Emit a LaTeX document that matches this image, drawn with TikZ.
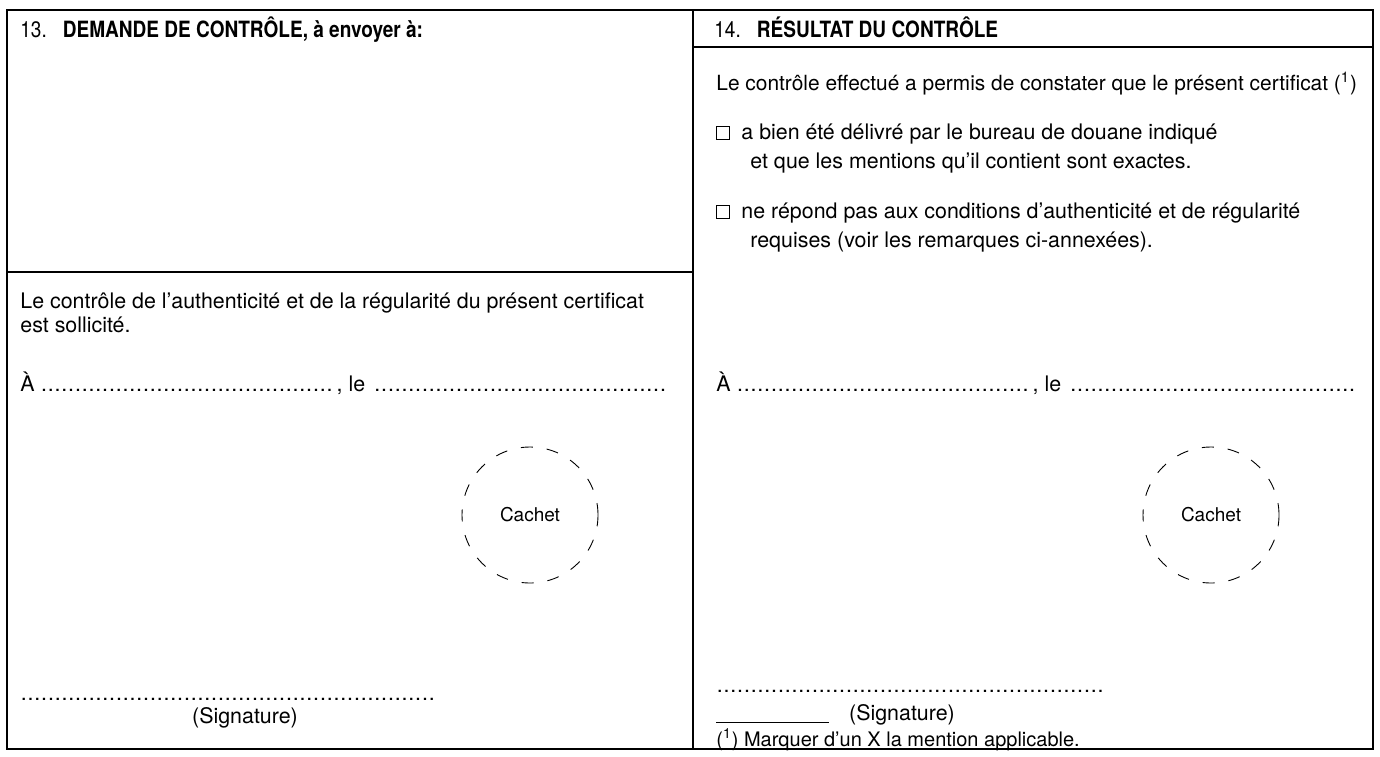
\documentclass[tikz,border=0pt]{standalone}
\usepackage{fontspec}
\setmainfont{TeX Gyre Heros}
\usetikzlibrary{positioning}
\newcommand{\pointilles}{\leaders\hbox to 3.4pt{\hss.\hss}\hfill}

\begin{document}
\begin{tikzpicture}[x=0.5pt,y=-0.5pt,
    frame/.style={line width=0.75pt},
    txt/.style={anchor=base west,inner sep=0pt,font=\fontsize{10.7}{12}\selectfont},
    titre/.style={txt,font=\fontsize{11.2}{13}\selectfont\addfontfeature{FakeStretch=0.85}},
    cachet/.style={circle,draw,minimum size=68pt,inner sep=0pt,line width=0.45pt,
      dash pattern=on 6pt off 7pt,font=\fontsize{9.5}{11}\selectfont},
    chk/.style={draw,line width=0.7pt,minimum size=6.4pt,inner sep=0pt}]
  \useasboundingbox (0,0) rectangle (1380,756);
  % frame of the form
  \coordinate (tl) at (7,10);
  \coordinate (br) at (1373,749);
  \coordinate (mt) at (693,10);
  \coordinate (mb) at (693,749);
  \draw[frame] (tl) rectangle (br);
  \draw[frame] (mt) -- (mb);
  \draw[frame] (7,272) -- (693,272);
  \draw[frame] (693,47) -- (1373,47);

  % box 13
  \node[titre] (h13) at (20,37) {13.\hspace{8pt}\textbf{DEMANDE DE CONTRÔLE, à envoyer à:}};
  \node[txt] (req1) at (20,308) {Le contrôle de l’authenticité et de la régularité du présent certificat};
  \node[txt] (req2) at (20,332) {est sollicité.};
  \node[txt] (lieuA) at (20,391) {\makebox[326pt][l]{À \makebox[148pt]{\pointilles}, le \pointilles}};
  \node[cachet] (cachetA) at (530,515) {Cachet};
  \node[txt] (sigA) at (20,700) {\makebox[210pt]{\pointilles}};
  \node[txt,anchor=base] (sigAl) at (245,723) {(Signature)};

  % box 14
  \node[titre] (h14) at (714,37) {14.\hspace{8pt}\textbf{RÉSULTAT DU CONTRÔLE}};
  \node[txt,font=\fontsize{10.45}{12}\selectfont] (res) at (716,90) {Le contrôle effectué a permis de constater que le présent certificat (\textsuperscript{1})};
  \node[chk,anchor=south west] (c1) at (716,140) {};
  \node[txt] (c1a) at (741,139) {a bien été délivré par le bureau de douane indiqué};
  \node[txt] (c1b) at (750,168) {et que les mentions qu’il contient sont exactes.};
  \node[chk,anchor=south west] (c2) at (716,219) {};
  \node[txt] (c2a) at (741,218) {ne répond pas aux conditions d’authenticité et de régularité};
  \node[txt] (c2b) at (750,247) {requises (voir les remarques ci-annexées).};
  \node[txt] (lieuB) at (716,391) {\makebox[320pt][l]{À \makebox[148pt]{\pointilles}, le \pointilles}};
  \node[cachet] (cachetB) at (1211,515) {Cachet};
  \node[txt] (sigB) at (716,692) {\makebox[197pt]{\pointilles}};
  \node[txt,anchor=base] (sigBl) at (902,720) {(Signature)};
  \coordinate (fnl) at (716,722);
  \coordinate (fnr) at (829,722);
  \draw[line width=0.5pt] (fnl) -- (fnr);
  \node[txt,font=\fontsize{10}{12}\selectfont] (fn) at (716,746) {(\textsuperscript{1}) Marquer d’un X la mention applicable.};
\end{tikzpicture}
\end{document}
